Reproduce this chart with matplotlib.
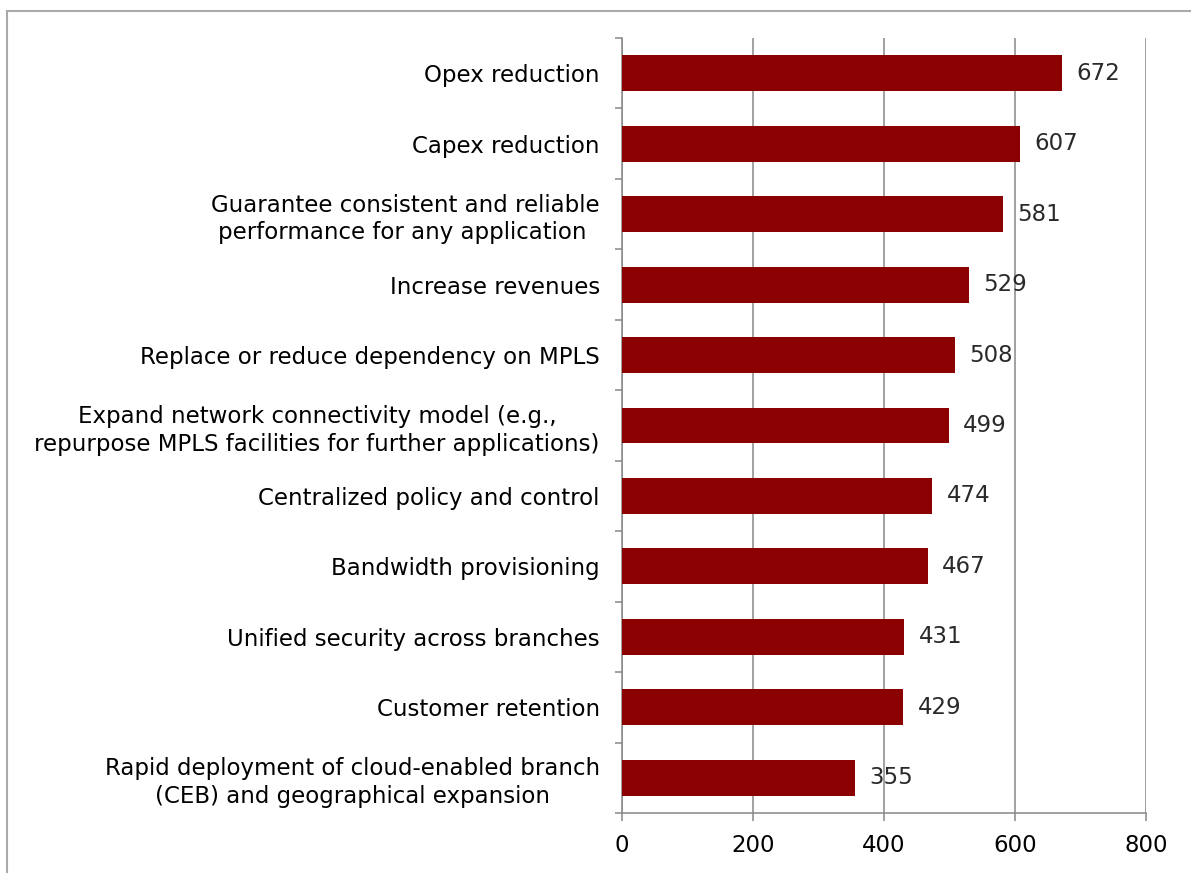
import matplotlib.pyplot as plt
import numpy as np
from matplotlib.patches import Rectangle

# categories top to bottom
labels = [
    "Opex reduction",
    "Capex reduction",
    "Guarantee consistent and reliable\nperformance for any application ",
    "Increase revenues",
    "Replace or reduce dependency on MPLS",
    "Expand network connectivity model (e.g.,\nrepurpose MPLS facilities for further applications)",
    "Centralized policy and control",
    "Bandwidth provisioning",
    "Unified security across branches",
    "Customer retention",
    "Rapid deployment of cloud-enabled branch\n(CEB) and geographical expansion",
]
values = [672, 607, 581, 529, 508, 499, 474, 467, 431, 429, 355]
xticks = [0, 200, 400, 600, 800]

fig = plt.figure(figsize=(11.91, 8.73), dpi=100)
ax = fig.add_axes([0.5223, 0.0687, 0.4399, 0.8878])

y = np.arange(len(values))
ax.barh(y, values, height=0.51, color='#8B0000', zorder=3)
for yi, v in zip(y, values):
    ax.text(v + 22, yi, str(v), va='center', ha='left', fontsize=16.5, color='#2a2a2a', zorder=4)

ax.set_ylim(len(values) - 0.5, -0.5)
ax.set_xlim(0, 800)
ax.set_xticks(xticks)
ax.set_xticklabels([str(t) for t in xticks], fontsize=16.5)
ax.set_yticks(y)
ax.set_yticklabels(labels, fontsize=16.5, multialignment='center', linespacing=1.25)
ax.set_yticks(np.arange(-0.5, len(values)), minor=True)
ax.tick_params(axis='y', which='major', length=0, pad=16)
ax.tick_params(axis='y', which='minor', length=5, width=1.1, color='#888888', direction='out')
ax.tick_params(axis='x', length=6, width=1.1, color='#888888', pad=9)

ax.grid(axis='x', color='#888888', linewidth=1.1, zorder=0)
for s in ['top', 'right']:
    ax.spines[s].set_visible(False)
for s in ['left', 'bottom']:
    ax.spines[s].set_color('#888888')
    ax.spines[s].set_linewidth(1.1)

# outer frame (left and top visible)
fig.patches.append(Rectangle((0.006, -0.1), 1.2, 1.087, transform=fig.transFigure,
                             fill=False, edgecolor='#aaaaaa', linewidth=1.5))

fig.savefig('out.png', dpi=100)
